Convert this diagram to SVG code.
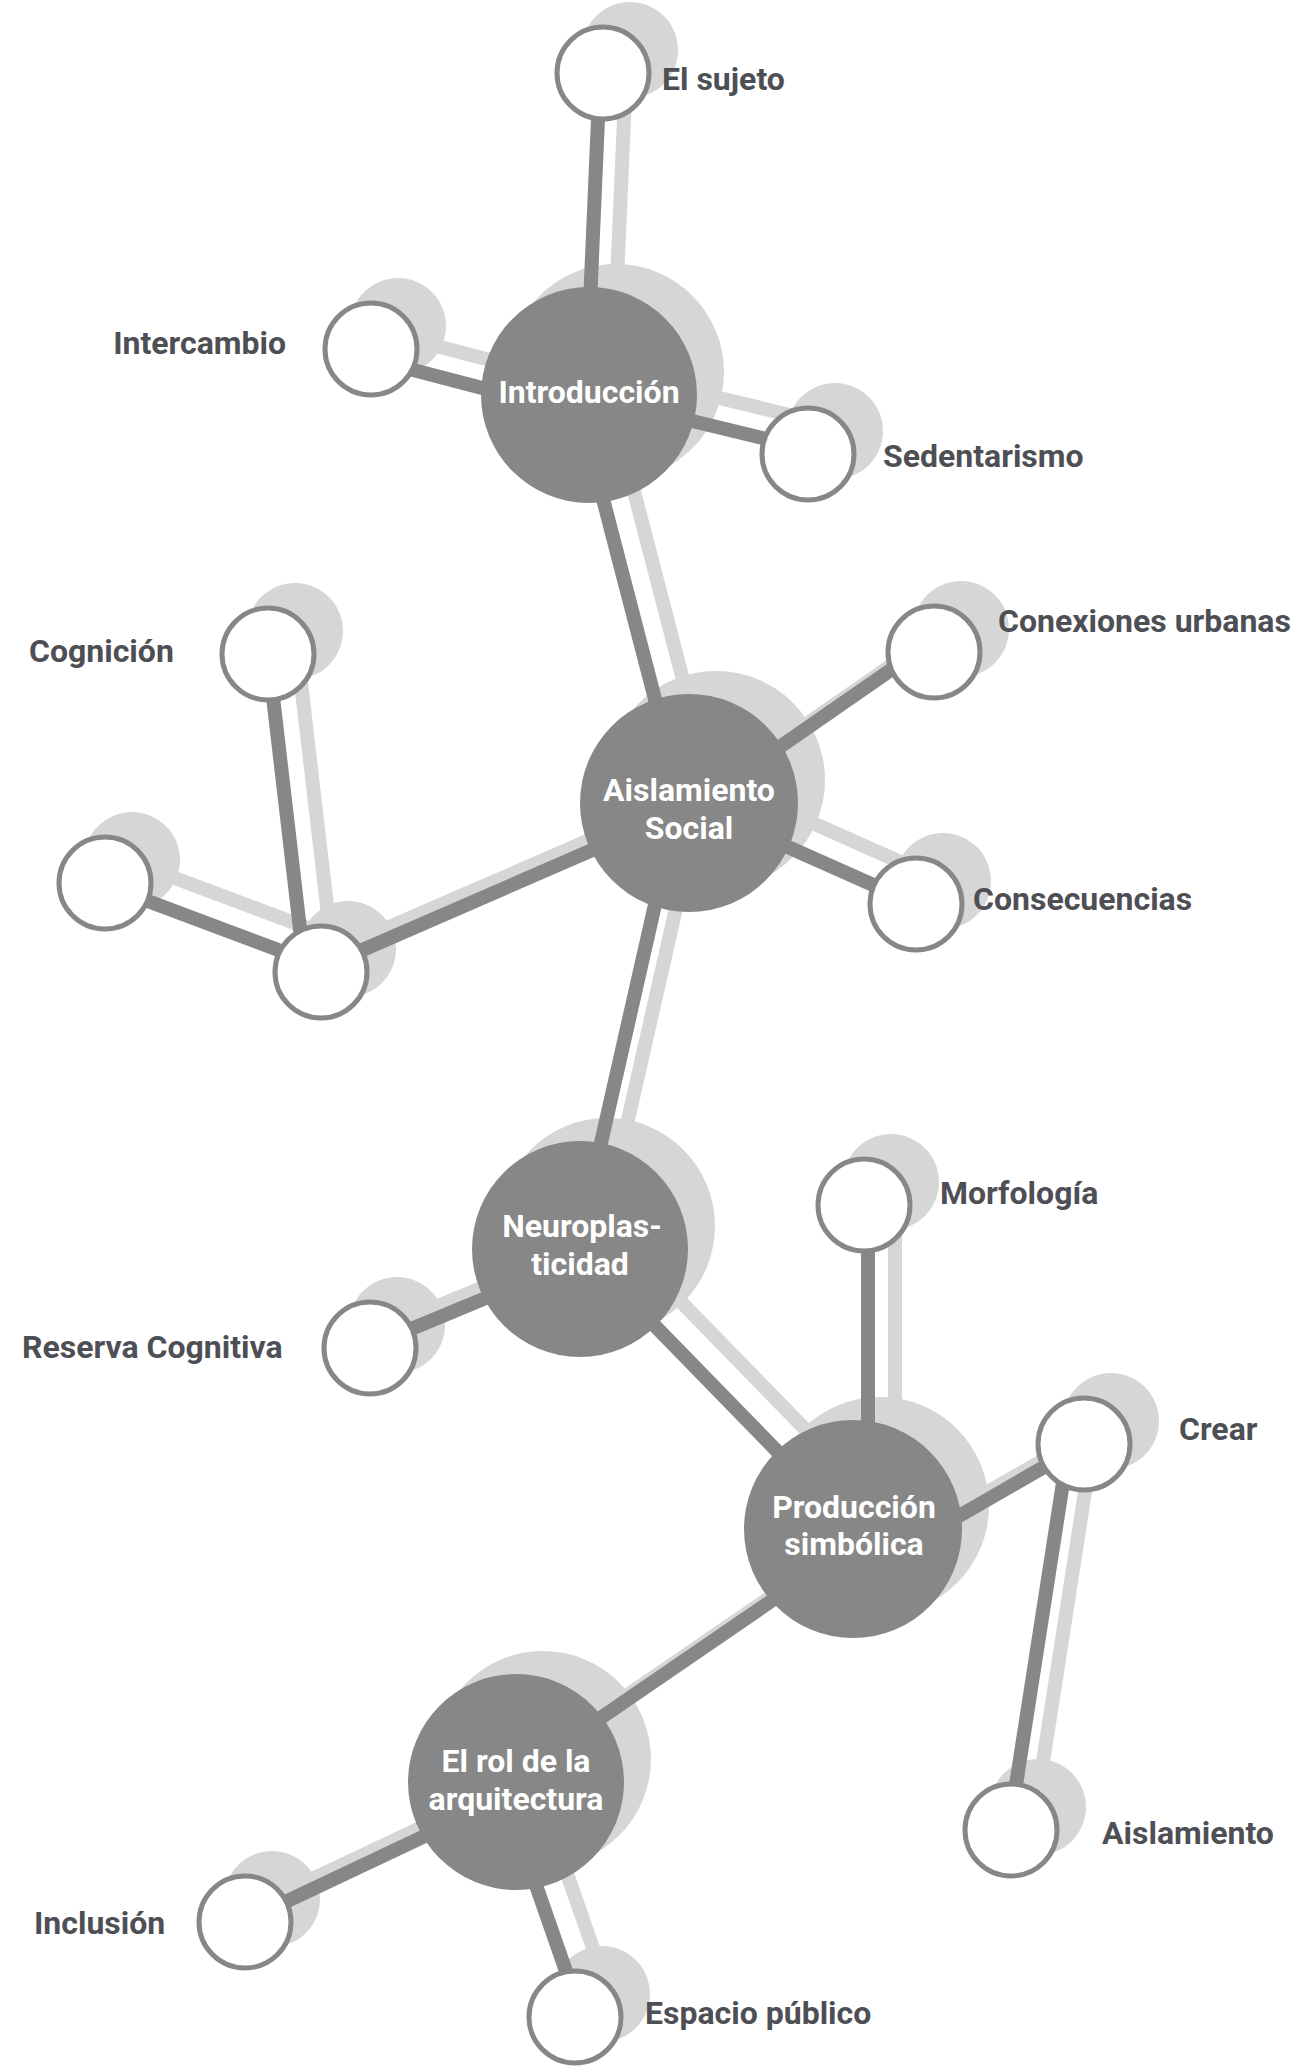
<svg xmlns="http://www.w3.org/2000/svg" width="1303" height="2067" viewBox="0 0 1303 2067">
<style>
.sl{stroke:#d6d6d6;stroke-width:14;fill:none}
.sc{fill:#d6d6d6}
.dl{stroke:#878787;stroke-width:14;fill:none}
.big{fill:#878787}
.sm{fill:#fff;stroke:#878787;stroke-width:5}
.bt{font-family:Roboto,"Liberation Sans",sans-serif;font-weight:700;font-size:32px;fill:#fff;text-anchor:middle}
.lb{font-family:Roboto,"Liberation Sans",sans-serif;font-weight:700;font-size:32px;fill:#4d4f54}
</style>
<rect width="1303" height="2067" fill="#fff"/>
<g id="shadow" transform="translate(27,-23)">
<g id="shadow-lines">
<line class="sl" x1="600" y1="73" x2="586" y2="395"/>
<line class="sl" x1="371" y1="359" x2="589" y2="416"/>
<line class="sl" x1="589" y1="396" x2="808" y2="449"/>
<line class="sl" x1="576" y1="395" x2="682" y2="803"/>
<line class="sl" x1="689" y1="810" x2="934" y2="640"/>
<line class="sl" x1="689" y1="803" x2="916" y2="904"/>
<line class="sl" x1="321" y1="968" x2="689" y2="808"/>
<line class="sl" x1="268" y1="654" x2="305" y2="972"/>
<line class="sl" x1="105" y1="885" x2="321" y2="966"/>
<line class="sl" x1="678" y1="803" x2="577" y2="1249"/>
<line class="sl" x1="370" y1="1346" x2="580" y2="1259"/>
<line class="sl" x1="580" y1="1249" x2="853" y2="1529"/>
<line class="sl" x1="868" y1="1205" x2="868" y2="1529"/>
<line class="sl" x1="900" y1="1550" x2="1084" y2="1444"/>
<line class="sl" x1="1069" y1="1444" x2="1009" y2="1830"/>
<line class="sl" x1="516" y1="1776" x2="853" y2="1545"/>
<line class="sl" x1="245" y1="1921" x2="516" y2="1793"/>
<line class="sl" x1="500" y1="1782" x2="582" y2="2017"/>
</g>
<circle class="sc" cx="589" cy="395" r="108"/>
<circle class="sc" cx="689" cy="803" r="109"/>
<circle class="sc" cx="580" cy="1249" r="108"/>
<circle class="sc" cx="853" cy="1529" r="109"/>
<circle class="sc" cx="516" cy="1782" r="108"/>
<circle class="sc" cx="603" cy="73" r="48"/>
<circle class="sc" cx="371" cy="349" r="48"/>
<circle class="sc" cx="808" cy="454" r="48"/>
<circle class="sc" cx="268" cy="654" r="48"/>
<circle class="sc" cx="105" cy="883" r="48"/>
<circle class="sc" cx="321" cy="972" r="48"/>
<circle class="sc" cx="934" cy="652" r="48"/>
<circle class="sc" cx="916" cy="904" r="48"/>
<circle class="sc" cx="370" cy="1348" r="48"/>
<circle class="sc" cx="864" cy="1205" r="48"/>
<circle class="sc" cx="1084" cy="1444" r="48"/>
<circle class="sc" cx="1011" cy="1830" r="48"/>
<circle class="sc" cx="245" cy="1922" r="48"/>
<circle class="sc" cx="575" cy="2017" r="48"/>
</g>
<g id="connectors">
<line class="dl" x1="600" y1="73" x2="586" y2="395"/>
<line class="dl" x1="371" y1="359" x2="589" y2="416"/>
<line class="dl" x1="589" y1="396" x2="808" y2="449"/>
<line class="dl" x1="576" y1="395" x2="682" y2="803"/>
<line class="dl" x1="689" y1="810" x2="934" y2="640"/>
<line class="dl" x1="689" y1="803" x2="916" y2="904"/>
<line class="dl" x1="321" y1="968" x2="689" y2="808"/>
<line class="dl" x1="268" y1="654" x2="305" y2="972"/>
<line class="dl" x1="105" y1="885" x2="321" y2="966"/>
<line class="dl" x1="678" y1="803" x2="577" y2="1249"/>
<line class="dl" x1="370" y1="1346" x2="580" y2="1259"/>
<line class="dl" x1="580" y1="1249" x2="853" y2="1529"/>
<line class="dl" x1="868" y1="1205" x2="868" y2="1529"/>
<line class="dl" x1="900" y1="1550" x2="1084" y2="1444"/>
<line class="dl" x1="1069" y1="1444" x2="1009" y2="1830"/>
<line class="dl" x1="516" y1="1776" x2="853" y2="1545"/>
<line class="dl" x1="245" y1="1921" x2="516" y2="1793"/>
<line class="dl" x1="500" y1="1782" x2="582" y2="2017"/>
</g>
<g id="introduccion"><circle class="big" cx="589" cy="395" r="108"/><text class="bt" x="589" y="403">Introducción</text></g>
<g id="aislamiento-social"><circle class="big" cx="689" cy="803" r="109"/><text class="bt" x="689" y="801">Aislamiento</text><text class="bt" x="689" y="839">Social</text></g>
<g id="neuroplasticidad"><circle class="big" cx="580" cy="1249" r="108"/><text class="bt" x="582" y="1237">Neuroplas-</text><text class="bt" x="580" y="1275">ticidad</text></g>
<g id="produccion-simbolica"><circle class="big" cx="853" cy="1529" r="109"/><text class="bt" x="854" y="1518">Producción</text><text class="bt" x="854" y="1555">simbólica</text></g>
<g id="rol-arquitectura"><circle class="big" cx="516" cy="1782" r="108"/><text class="bt" x="516" y="1772">El rol de la</text><text class="bt" x="516" y="1810">arquitectura</text></g>
<g id="el-sujeto"><circle class="sm" cx="603" cy="73" r="46"/><text class="lb" x="662" y="90">El sujeto</text></g>
<g id="intercambio"><circle class="sm" cx="371" cy="349" r="46"/><text class="lb" x="286" y="354" text-anchor="end">Intercambio</text></g>
<g id="sedentarismo"><circle class="sm" cx="808" cy="454" r="46"/><text class="lb" x="883" y="467">Sedentarismo</text></g>
<g id="cognicion"><circle class="sm" cx="268" cy="654" r="46"/><text class="lb" x="29" y="662">Cognición</text></g>
<g id="nodo-izquierdo"><circle class="sm" cx="105" cy="883" r="46"/></g>
<g id="nodo-union"><circle class="sm" cx="321" cy="972" r="46"/></g>
<g id="conexiones-urbanas"><circle class="sm" cx="934" cy="652" r="46"/><text class="lb" x="998" y="632">Conexiones urbanas</text></g>
<g id="consecuencias"><circle class="sm" cx="916" cy="904" r="46"/><text class="lb" x="973" y="910">Consecuencias</text></g>
<g id="reserva-cognitiva"><circle class="sm" cx="370" cy="1348" r="46"/><text class="lb" x="22" y="1358">Reserva Cognitiva</text></g>
<g id="morfologia"><circle class="sm" cx="864" cy="1205" r="46"/><text class="lb" x="940" y="1204">Morfología</text></g>
<g id="crear"><circle class="sm" cx="1084" cy="1444" r="46"/><text class="lb" x="1179" y="1440">Crear</text></g>
<g id="aislamiento"><circle class="sm" cx="1011" cy="1830" r="46"/><text class="lb" x="1102" y="1844">Aislamiento</text></g>
<g id="inclusion"><circle class="sm" cx="245" cy="1922" r="46"/><text class="lb" x="34" y="1934">Inclusión</text></g>
<g id="espacio-publico"><circle class="sm" cx="575" cy="2017" r="46"/><text class="lb" x="645" y="2024">Espacio público</text></g>
</svg>
